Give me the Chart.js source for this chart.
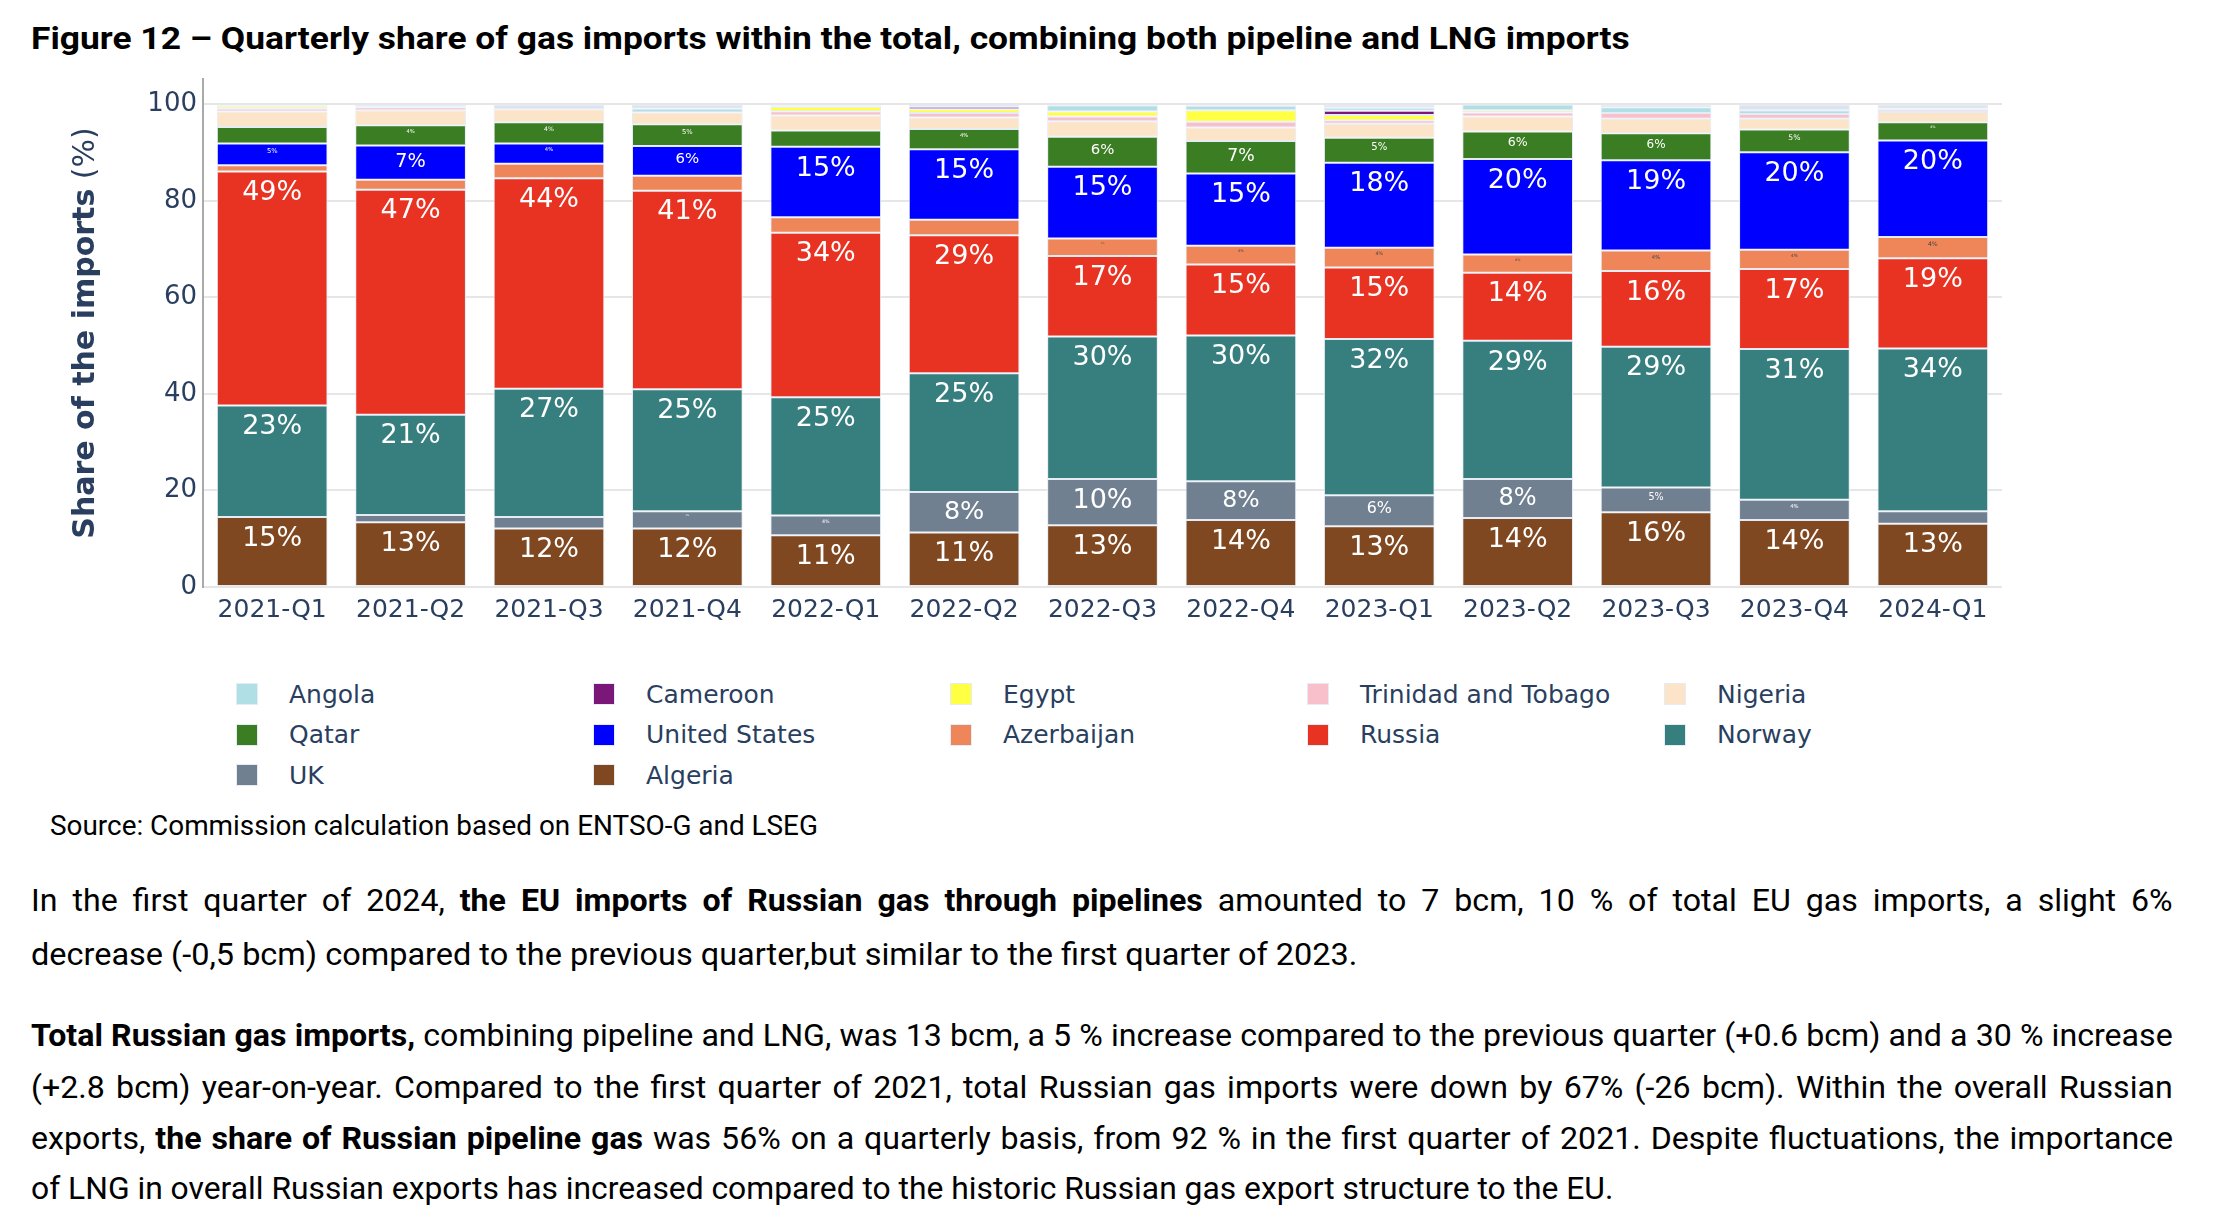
<!DOCTYPE html>
<html lang="en">

<head>
    <meta charset="UTF-8">
    <meta name="viewport" content="width=device-width, initial-scale=1">
    <title>Figure 12 - Quarterly share of gas imports</title>
    <style>
        body {
            margin: 0;
            width: 2222px;
            height: 1226px;
            background: #fff;
            position: relative;
            overflow: hidden;
        }

        .chart-box {
            position: absolute;
            left: 0;
            top: 0;
            width: 2222px;
            height: 640px;
        }

        .line {
            position: absolute;
            left: 31px;
            white-space: nowrap;
            font-family: Roboto, "Liberation Sans", sans-serif;
            font-size: 32px;
            line-height: 40px;
            color: #000;
            transform-origin: 0 50%;
        }

        .title {
            font-size: 32px;
            font-weight: 700;
        }

        .legend {
            position: absolute;
            left: 236px;
            top: 674px;
            display: grid;
            grid-template-columns: repeat(5, 357px);
            grid-auto-rows: 40.5px;
            font-family: "DejaVu Sans", sans-serif;
            font-size: 25px;
            color: #2a3f5f;
        }

        .legend-item {
            display: flex;
            align-items: center;
        }

        .legend-item i {
            display: block;
            width: 22px;
            height: 22px;
            margin-right: 31px;
            box-sizing: border-box;
            border: 1px solid #e5ecf6;
        }
    </style>
</head>

<body>
    <div class="line title" id="title" style="top:18px">Figure 12 – Quarterly share of gas imports within the total, combining both pipeline and LNG imports</div>

    <div class="chart-box">
        <canvas id="chart"></canvas>
    </div>
    <script src="https://cdn.jsdelivr.net/npm/chart.js"></script>

    <div class="legend" id="legend"></div>

    <div class="line" id="source" style="left:50px; top:806px; font-size:28px">Source: Commission calculation based on ENTSO-G and LSEG</div>

    <div class="line body" id="l1" style="top:880px">In the first quarter of 2024, <b>the EU imports of Russian gas through pipelines</b> amounted to 7 bcm, 10 % of total EU gas imports, a slight 6%</div>
    <div class="line body" id="l2" style="top:934px">decrease (-0,5 bcm) compared to the previous quarter,but similar to the first quarter of 2023.</div>
    <div class="line body" id="l3" style="top:1015px"><b>Total Russian gas imports,</b> combining pipeline and LNG, was 13 bcm, a 5 % increase compared to the previous quarter (+0.6 bcm) and a 30 % increase</div>
    <div class="line body" id="l4" style="top:1067px">(+2.8 bcm) year-on-year. Compared to the first quarter of 2021, total Russian gas imports were down by 67% (-26 bcm). Within the overall Russian</div>
    <div class="line body" id="l5" style="top:1118px">exports, <b>the share of Russian pipeline gas</b> was 56% on a quarterly basis, from 92 % in the first quarter of 2021. Despite fluctuations, the importance</div>
    <div class="line body" id="l6" style="top:1168px">of LNG in overall Russian exports has increased compared to the historic Russian gas export structure to the EU.</div>
</body>
<script>
    // quarters on the x axis
    const quarters = ["2021-Q1", "2021-Q2", "2021-Q3", "2021-Q4", "2022-Q1", "2022-Q2", "2022-Q3",
        "2022-Q4", "2023-Q1", "2023-Q2", "2023-Q3", "2023-Q4", "2024-Q1"];

    // share of total imports (%), bottom of the stack first
    const algeria    = [14.5, 13.4, 12.1, 12.1, 10.7, 11.3, 12.8, 13.9, 12.6, 14.3, 15.5, 13.9, 13.1];
    const uk         = [0.0, 1.5, 2.4, 3.6, 4.1, 8.4, 9.6, 8.0, 6.4, 8.1, 5.1, 4.2, 2.6];
    const norway     = [23.1, 20.8, 26.6, 25.3, 24.5, 24.6, 29.5, 30.2, 32.4, 28.6, 29.2, 31.2, 33.7];
    const russia     = [48.5, 46.6, 43.6, 41.1, 34.1, 28.6, 16.7, 14.7, 14.8, 14.1, 15.7, 16.6, 18.7];
    const azerbaijan = [1.3, 2.1, 3.0, 3.1, 3.2, 3.2, 3.6, 3.9, 4.1, 3.8, 4.2, 4.0, 4.4];
    const usa        = [4.5, 7.1, 4.2, 6.2, 14.6, 14.6, 14.9, 15.0, 17.6, 19.8, 18.7, 20.2, 20.0];
    const qatar      = [3.4, 4.2, 4.4, 4.5, 3.4, 4.2, 6.2, 6.7, 5.2, 5.7, 5.6, 4.7, 3.8];
    const nigeria    = [3.2, 3.1, 2.7, 2.4, 3.1, 2.4, 3.2, 2.8, 2.9, 3.1, 3.0, 2.2, 2.1];
    const trinidad   = [0.6, 0.6, 0.0, 0.0, 0.9, 0.9, 1.0, 1.2, 0.7, 0.8, 1.2, 1.0, 0.5];
    const egypt      = [0.5, 0.0, 0.0, 0.0, 0.9, 0.8, 1.0, 2.4, 1.1, 0.5, 0.0, 0.0, 0.0];
    const cameroon   = [0.0, 0.0, 0.0, 0.0, 0.0, 0.5, 0.0, 0.0, 0.9, 0.0, 0.0, 0.0, 0.0];
    const angola     = [0.2, 0.2, 0.0, 0.8, 0.2, 0.5, 1.3, 0.9, 0.6, 1.2, 1.2, 0.8, 0.2];
    const other      = [0.2, 0.4, 1.0, 0.9, 0.3, 0.0, 0.2, 0.3, 0.7, 0.0, 0.6, 1.2, 0.9];

    const yTicks = [0, 20, 40, 60, 80, 100];

    const series = [
        ["Algeria", algeria, "#7f4820"],
        ["UK", uk, "#708090"],
        ["Norway", norway, "#377e7e"],
        ["Russia", russia, "#e83323"],
        ["Azerbaijan", azerbaijan, "#ee8659"],
        ["United States", usa, "#0000ff"],
        ["Qatar", qatar, "#3a7d22"],
        ["Nigeria", nigeria, "#fce4c8"],
        ["Trinidad and Tobago", trinidad, "#f8c0cb"],
        ["Egypt", egypt, "#ffff44"],
        ["Cameroon", cameroon, "#7b1779"],
        ["Angola", angola, "#b0e0e6"],
        ["Other", other, "#dde3ee"]
    ];

    const inkDark = "#2a3f5f";
    const LABEL_SIZE = 27;

    function isDark(hex) {
        const r = parseInt(hex.slice(1, 3), 16), g = parseInt(hex.slice(3, 5), 16), b = parseInt(hex.slice(5, 7), 16);
        return (r * 299 + g * 587 + b * 114) / 1000 < 128;
    }

    // percentage text inside each segment, shrunk to fit like plotly does
    const barLabels = {
        id: "barLabels",
        afterDatasetsDraw(chart) {
            const ctx = chart.ctx;
            ctx.save();
            ctx.textAlign = "center";
            ctx.textBaseline = "alphabetic";
            chart.data.datasets.forEach((ds, i) => {
                const meta = chart.getDatasetMeta(i);
                meta.data.forEach((bar, j) => {
                    const v = ds.data[j];
                    if (!v) return;
                    const txt = Math.round(v) + "%";
                    const p = bar.getProps(["x", "y", "base", "width"], true);
                    const h = p.base - p.y;
                    ctx.font = LABEL_SIZE + 'px "DejaVu Sans"';
                    const tw = ctx.measureText(txt).width;
                    const size = Math.min(LABEL_SIZE, (p.width - 15) / tw * LABEL_SIZE, h - 15);
                    if (size < 2) return;
                    ctx.font = size + 'px "DejaVu Sans"';
                    ctx.fillStyle = isDark(ds.backgroundColor) ? "#ffffff" : "#444444";
                    ctx.fillText(txt, p.x, p.y + 3 + size * 0.95);
                });
            });
            ctx.restore();
        }
    };

    // y title with bold main part and regular unit
    const yTitle = {
        id: "yTitle",
        afterDraw(chart) {
            const ctx = chart.ctx, a = chart.chartArea;
            const bold = "Share of the imports", rest = " (%)";
            ctx.save();
            ctx.translate(86, (a.top + a.bottom) / 2);
            ctx.rotate(-Math.PI / 2);
            ctx.fillStyle = inkDark;
            ctx.textBaseline = "middle";
            ctx.font = 'bold 30px "DejaVu Sans"';
            const w1 = ctx.measureText(bold).width;
            ctx.font = '30px "DejaVu Sans"';
            const w2 = ctx.measureText(rest).width;
            const x0 = -(w1 + w2) / 2;
            ctx.font = 'bold 30px "DejaVu Sans"';
            ctx.fillText(bold, x0, 0);
            ctx.font = '30px "DejaVu Sans"';
            ctx.fillText(rest, x0 + w1, 0);
            ctx.restore();
        }
    };

    const ctx = document.getElementById("chart");

    const chart = new Chart(ctx, {
        type: "bar",
        data: {
            labels: quarters,
            datasets: series.map(([name, values, color]) => ({
                label: name,
                data: values,
                backgroundColor: color,
                borderColor: "#e5ecf6",
                borderWidth: 1,
                borderSkipped: false,
                categoryPercentage: 1,
                barPercentage: 0.8
            }))
        },
        options: {
            responsive: true,
            maintainAspectRatio: false,
            animation: false,
            layout: { padding: { top: 79, right: 220, bottom: 0, left: 0 } },
            plugins: {
                legend: { display: false },
                tooltip: { enabled: false }
            },
            scales: {
                x: {
                    stacked: true,
                    grid: { display: false },
                    border: { display: false },
                    ticks: {
                        color: inkDark,
                        padding: 0,
                        maxRotation: 0,
                        font: { family: "DejaVu Sans", size: 25 }
                    },
                    afterFit: (s) => { s.height = 53; }
                },
                y: {
                    stacked: true,
                    min: 0,
                    max: 105.26,
                    grid: { color: "#e6e6e6", lineWidth: 2, drawTicks: false },
                    border: { display: true, color: "#a9a9a9", width: 2 },
                    afterBuildTicks: (s) => { s.ticks = yTicks.map(v => ({ value: v })); },
                    ticks: {
                        color: inkDark,
                        padding: 6,
                        font: { family: "DejaVu Sans", size: 26 }
                    },
                    afterFit: (s) => { s.width = 203; }
                }
            }
        },
        plugins: [barLabels, yTitle]
    });

    // html legend, top of the stack first, five columns
    const legend = document.getElementById("legend");
    chart.data.datasets.slice().reverse().forEach(ds => {
        if (ds.label === "Other") return;
        const item = document.createElement("div");
        item.className = "legend-item";
        const box = document.createElement("i");
        box.style.background = ds.backgroundColor;
        item.appendChild(box);
        item.appendChild(document.createTextNode(ds.label));
        legend.appendChild(item);
    });

    // stretch text lines to the widths seen in the figure
    function squeeze(id, target) {
        const el = document.getElementById(id);
        el.style.transform = "scaleX(" + (target / el.offsetWidth) + ")";
    }

    squeeze("title", 1599);
    squeeze("source", 768);

    // body: one horizontal squeeze taken from the unjustified last lines, then justify
    const lastLines = [["l2", 1326], ["l6", 1582]];
    const k = lastLines.reduce((acc, [id, t]) => acc + t / document.getElementById(id).offsetWidth, 0) / lastLines.length;
    ["l1", "l2", "l3", "l4", "l5", "l6"].forEach(id => {
        const el = document.getElementById(id);
        const full = !lastLines.some(([lid]) => lid === id);
        let kx = k;
        if (full) {
            const want = 2142 / k;
            const w = el.offsetWidth;
            if (w < want) {
                const gaps = (el.textContent.match(/ /g) || []).length;
                el.style.wordSpacing = ((want - w) / gaps) + "px";
            } else {
                kx = 2142 / w;
            }
        } else {
            kx = lastLines.find(([lid]) => lid === id)[1] / el.offsetWidth;
        }
        el.style.transform = "scaleX(" + kx + ")";
    });
</script>

</html>
